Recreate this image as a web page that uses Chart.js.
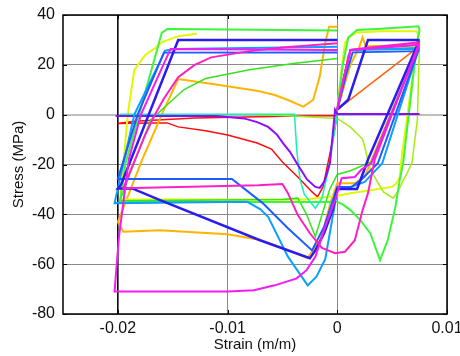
<!DOCTYPE html>
<html>
<head>
<meta charset="utf-8">
<script src="https://cdn.jsdelivr.net/npm/chart.js@4.4.0/dist/chart.umd.min.js"></script>
<style>
  html, body { margin: 0; padding: 0; background: #fff; }
</style>
</head>
<body>
<canvas id="grafica" width="460" height="356"></canvas>
<script>
// ejes
var xTicks = [-0.02, -0.01, 0, 0.01];
var xTickLabels = ["-0.02", "-0.01", "0", "0.01"];
var yTicks = [-80, -60, -40, -20, 0, 20, 40];
var yTickLabels = ["-80", "-60", "-40", "-20", "0", "20", "40"];

// curvas (deformacion m/m, esfuerzo MPa)
var redStrain = [0, -0.005, -0.013, -0.0185, -0.02, -0.017, -0.0155, -0.0145, -0.012, -0.01, -0.0073, -0.006, -0.005, -0.0036, -0.0023, -0.0018, -0.0013, -0.0005, 0];
var redStress = [-0.3, -0.6, -1.3, -2.6, -3.5, -3.3, -3.3, -4.9, -6.5, -8.2, -11.4, -13.8, -19, -25, -31, -33, -29, -12, 0];

var orangeRedStrain = [0.001, 0, 0.0069, 0.0074];
var orangeRedStress = [24, 2, 25.5, 27.5];

var orangeStrain = [0, 0.0012, 0.002, 0.0023, 0.0026, 0.0074, 0.0074, 0.003, 0.0025, 0.0016, 0, -0.0006, -0.0015, -0.0027, -0.005, -0.007, -0.01, -0.0162, -0.0195, -0.02, -0.0178, -0.0158, -0.0145, -0.0109, -0.0072, -0.0057, -0.0045, -0.0031, -0.0022, -0.0016, -0.0011, -0.00075, 0];
var orangeStress = [2, 20, 27, 31, 27.5, 28, 27, -19.5, -25, -27.5, -27.5, -35, -50, -57.5, -53.5, -50.3, -48, -46.4, -47, -43, -18.2, 2, 14.3, 12, 9.5, 7.9, 5.9, 3.2, 5.9, 15.3, 28.8, 35.3, 35.3];

var yellowStrain = [0, 0.0003, 0.0007, 0.0012, 0.0018, 0.004, 0.0072, 0.0074, 0.007, 0.0058, 0.0057, 0.0054, 0.005, 0.0012, 0, -0.003, -0.0198, -0.0195, -0.0191, -0.0185, -0.0175, -0.0165, -0.016, -0.0145, -0.0128];
var yellowStress = [2, 15, 29, 31.5, 33, 33.5, 33.5, 32, 20, -19.5, -25, -27.5, -29, -31.5, -32.5, -34, -34, -20, 0, 18, 24, 27, 29, 31.5, 32.5];

var yellowGreenStrain = [-0.0075, -0.005, 0, 0.0012, 0.0023, 0.0025, 0.003, 0.0042, 0.0051, 0.0055, 0.0068, 0.0073, 0.0075];
var yellowGreenStress = [0, -0.3, -1.5, -5, -9.8, -13, -22, -31, -33.5, -31, -19.5, -2, 30];

var limeStrain = [0, 0.0005, 0.001, 0.0018, 0.004, 0.0074, 0.0075, 0.0073, 0.006, 0.0057, 0.0053, 0.0046, 0.0039, 0.003, 0.0021, 0.0012, 0.0005, 0, -0.005, -0.0198, -0.0193, -0.016, -0.0155, -0.01, 0];
var limeStress = [2, 20, 31, 34, 34.5, 35.5, 34, 30, -19.5, -26, -37, -50.3, -58.4, -47.6, -42.3, -38.3, -36, -35, -35, -35, -19.4, 32.8, 34.4, 34.2, 33.8];

var greenStrain = [0, 0.0006, 0.0012, 0.0074, 0.0074, 0.0031, 0.0012, 0, -0.0007, -0.002, -0.0028, -0.0036, -0.005, -0.0198, -0.019, -0.017, -0.0155, -0.014, -0.012, -0.008, -0.004, 0];
var greenStress = [2, 15, 26, 27, 27.5, -19, -22.5, -24, -30, -49, -40, -33.5, -34, -34.5, -25, -2, 4, 10, 14.5, 18, 20.5, 22.5];

var tealStrain = [-0.0198, -0.0039, -0.0037, -0.0034, -0.003, -0.002, -0.0014, -0.0008, 0, 0.0016];
var tealStress = [0.2, 0.2, -14, -26, -32, -37.5, -33.5, -22, 0, 0.2];

var skyStrain = [0, 0.0007, 0.0012, 0.0074, 0.0074, 0.0041, 0.0025, 0.0012, 0, -0.0003, -0.0011, -0.0019, -0.0027, -0.0045, -0.0063, -0.007, -0.0082, -0.0203, -0.0185, -0.0162, -0.0157, -0.0148, 0];
var skyStress = [2, 15, 26, 26.5, 26, -19.5, -27, -29, -30, -38, -58, -65, -68.5, -57, -41, -38, -35, -35.5, 0, 21, 25.7, 26.4, 27.3];

var blueStrain = [0, 0.0008, 0.0014, 0.0074, 0.0074, 0.0037, 0.0022, 0.0013, 0, -0.0012, -0.0023, -0.0045, -0.0068, -0.0096, -0.02, -0.0182, -0.0158, 0];
var blueStress = [2, 16, 25, 25.5, 26, -19.5, -26, -29, -29, -45, -54.5, -45.6, -35.5, -25.8, -25.8, 0, 24.9, 25];

var darkBlueStrain = [0, 0.001, 0.0028, 0.0074, 0.0074, 0.0028, 0.0023, 0.0018, 0, -0.0004, -0.0012, -0.002, -0.0025, -0.00705, -0.01615, -0.0187, -0.02, -0.0197, -0.0145, 0];
var darkBlueStress = [2, 6, 30, 30, 29, -18, -24, -29.8, -29.8, -38, -47.6, -54.5, -57.6, -50.4, -34.3, -29.6, -29.6, -28, 30, 30];

var violetStrain = [-0.0202, -0.011, -0.0085, -0.0073, -0.0063, -0.0055, -0.00495, -0.0043, -0.0037, -0.00276, -0.002, -0.0016, -0.0012, -0.00094, -0.00067, -0.0002, 0, 0.0075];
var violetStress = [-0.5, -0.5, -1.5, -3, -4.9, -8, -11.4, -15, -19.4, -26, -29, -29.4, -27, -23.4, -19.4, 1.9, 0.3, 0.3];

var magentaStrain = [0, 0.0006, 0.0012, 0.0074, 0.0074, 0.0031, 0.0022, 0.0016, 0.0004, -0.0002, -0.0011, -0.002, -0.0028, -0.0037, -0.0057, -0.0076, -0.01, -0.0203, -0.0199, -0.019, -0.0179, -0.0152, 0];
var magentaStress = [2, 15, 26, 28, 27, -19.5, -22, -25, -25.5, -34.3, -45, -57, -62.4, -65.7, -68.5, -70.5, -71, -71, -49, -18, 0, 26.4, 26];

var pinkStrain = [0, 0.0006, 0.0012, 0.002, 0.0074, 0.0074, 0.0034, 0.0028, 0.0023, 0.0016, 0.0007, -0.0002, -0.0014, -0.0025, -0.0036, -0.0045, -0.005, -0.0072, -0.0195, -0.0175, -0.0165, -0.0158, -0.0145, -0.013, -0.0115, -0.008, -0.005, 0];
var pinkStress = [2, 15, 26, 26.5, 29, 28, -18.2, -31.5, -38.4, -50.4, -55, -55.6, -53.5, -47.6, -40.3, -31.5, -27.8, -28.3, -29.5, -8, 1, 6.5, 15, 20, 23, 25.5, 27, 28.7];

var blackStrain = [-0.02, -0.02];
var blackStress = [-80, 40];

function serie(strain, stress, color, width) {
    return {
        data: strain.map(function (x, i) { return { x: x, y: stress[i] }; }),
        borderColor: color,
        backgroundColor: color,
        borderWidth: width,
        showLine: true,
        pointRadius: 0,
        tension: 0,
        fill: false
    };
}

// marco negro y marcas hacia dentro
var marco = {
    id: "marco",
    afterDraw: function (chart) {
        var ctx = chart.ctx;
        var a = chart.chartArea;
        var sx = chart.scales.x;
        var sy = chart.scales.y;
        ctx.save();
        ctx.strokeStyle = "#000";
        ctx.lineWidth = 1;
        ctx.beginPath();
        xTicks.forEach(function (v) {
            var px = Math.round(sx.getPixelForValue(v)) + 0.5;
            ctx.moveTo(px, a.bottom); ctx.lineTo(px, a.bottom - 4);
            ctx.moveTo(px, a.top); ctx.lineTo(px, a.top + 4);
        });
        yTicks.forEach(function (v) {
            var py = Math.round(sy.getPixelForValue(v)) + 0.5;
            ctx.moveTo(a.left, py); ctx.lineTo(a.left + 4, py);
            ctx.moveTo(a.right, py); ctx.lineTo(a.right - 4, py);
        });
        ctx.stroke();
        ctx.lineWidth = 1.5;
        ctx.strokeRect(a.left, a.top, a.right - a.left, a.bottom - a.top);
        ctx.restore();
    }
};

Chart.defaults.font.family = "Arial, 'Liberation Sans', sans-serif";
Chart.defaults.font.size = 16;
Chart.defaults.color = "#111";

new Chart(document.getElementById("grafica"), {
    type: "scatter",
    data: {
        datasets: [
            serie(magentaStrain, magentaStress, "#f21cf2", 2),
            serie(pinkStrain, pinkStress, "#ff1fc4", 2),
            serie(darkBlueStrain, darkBlueStress, "#2a1cf0", 2.5),
            serie(blueStrain, blueStress, "#1f5cff", 2),
            serie(skyStrain, skyStress, "#0aa0ff", 2),
            serie(violetStrain, violetStress, "#8c0cff", 2),
            serie(tealStrain, tealStress, "#14f0b0", 1.5),
            serie(limeStrain, limeStress, "#3cf53c", 2),
            serie(greenStrain, greenStress, "#34e41c", 1.5),
            serie(yellowGreenStrain, yellowGreenStress, "#a6ec10", 1.5),
            serie(yellowStrain, yellowStress, "#e2f800", 2),
            serie(orangeStrain, orangeStress, "#ffb400", 2),
            serie(orangeRedStrain, orangeRedStress, "#ff6410", 1.5),
            serie(redStrain, redStress, "#ff0c0c", 1.5),
            serie(blackStrain, blackStress, "#000000", 1.5)
        ]
    },
    options: {
        responsive: false,
        animation: false,
        devicePixelRatio: 1,
        layout: { padding: { left: 0, right: 13, top: 15, bottom: 0 } },
        plugins: { legend: { display: false }, tooltip: { enabled: false } },
        scales: {
            x: {
                type: "linear",
                min: -0.025,
                max: 0.01,
                afterBuildTicks: function (s) {
                    s.ticks = xTicks.map(function (v) { return { value: v }; });
                },
                afterFit: function (s) {
                    s.height = 42;
                    s.paddingLeft = 0;
                    s.paddingRight = 0;
                },
                ticks: {
                    padding: 5,
                    maxRotation: 0,
                    callback: function (v) { return xTickLabels[xTicks.indexOf(v)]; }
                },
                grid: { color: "#8a8a8a", lineWidth: 1, drawTicks: false },
                border: { display: false },
                title: { display: true, text: "Strain (m/m)", font: { size: 15 }, padding: { top: 0, bottom: 2 } }
            },
            y: {
                type: "linear",
                min: -80,
                max: 40,
                afterBuildTicks: function (s) {
                    s.ticks = yTicks.map(function (v) { return { value: v }; });
                },
                afterFit: function (s) {
                    s.width = 63;
                    s.paddingTop = 0;
                    s.paddingBottom = 0;
                },
                ticks: {
                    padding: 8,
                    callback: function (v) { return yTickLabels[yTicks.indexOf(v)]; }
                },
                grid: {
                    drawTicks: false,
                    color: function (c) { return c.tick && c.tick.value === 0 ? "#bdbdbd" : "#8a8a8a"; },
                    lineWidth: function (c) { return c.tick && c.tick.value === 0 ? 2 : 1; }
                },
                border: { display: false },
                title: { display: true, text: "Stress (MPa)", font: { size: 15 }, padding: { top: 10, bottom: 0 } }
            }
        }
    },
    plugins: [marco]
});
</script>
</body>
</html>
